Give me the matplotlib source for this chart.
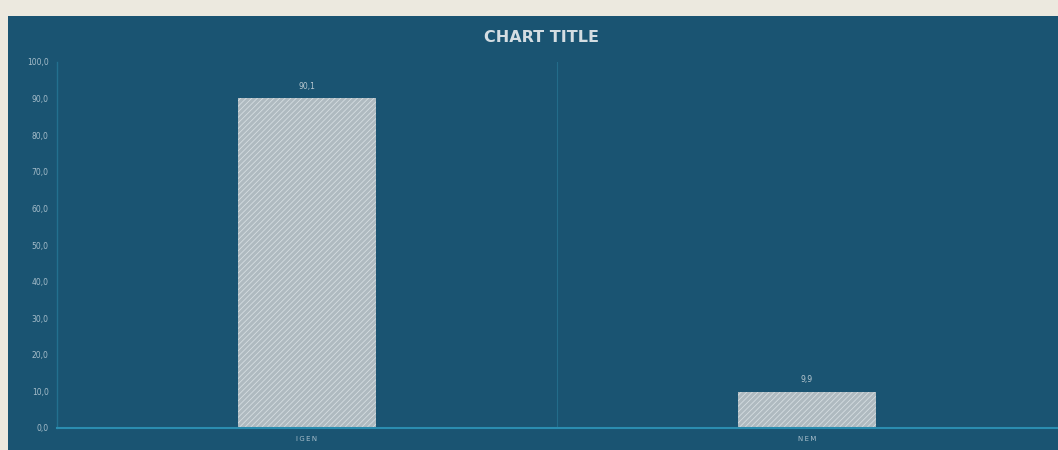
import matplotlib
matplotlib.use("Agg")
import matplotlib.pyplot as plt

categories = ["IGEN", "NEM"]
values = [90.1, 9.9]
yticks = [0, 10, 20, 30, 40, 50, 60, 70, 80, 90, 100]
title = "CHART TITLE"

plt.rcParams['hatch.linewidth'] = 0.6

W, H = 1058, 450
fig = plt.figure(figsize=(W / 100, H / 100), dpi=100)
fig.patch.set_facecolor("#ece9df")

panel_color = "#1a5472"
bg = fig.add_axes([8 / W, 0, 1 - 8 / W, 1 - 16 / H])
bg.set_facecolor(panel_color)
bg.set_xticks([])
bg.set_yticks([])
for s in bg.spines.values():
    s.set_visible(False)
bg.set_zorder(0)

ax = fig.add_axes([57 / W, 22 / H, (1057 - 57) / W, (428 - 62) / H])
ax.set_facecolor("none")
ax.set_zorder(1)

x = list(range(len(categories)))
bars = ax.bar(x, values, width=0.275, color="#afbac0", edgecolor="#d6dee2",
              hatch="//////", linewidth=0)

ax.set_xlim(-0.5, 1.5)
ax.set_ylim(0, 100)
ax.set_yticks(yticks)
ax.set_yticklabels([f"{v:.1f}".replace(".", ",") for v in yticks],
                   fontsize=5.5, color="#a6bdca")
ax.set_xticks(x)
ax.set_xticklabels(["\u2009".join(c) for c in categories], fontsize=5,
                   color="#a6bdca")
ax.tick_params(length=0, pad=6)

for s in ["top", "right"]:
    ax.spines[s].set_visible(False)
ax.spines["left"].set_color("#23708f")
ax.spines["left"].set_linewidth(1.0)
ax.spines["bottom"].set_color("#2b8db0")
ax.spines["bottom"].set_linewidth(1.5)
ax.axvline(0.5, color="#236c8a", linewidth=0.8, zorder=0)

for xi, v in zip(x, values):
    ax.text(xi, v + 2, f"{v:.1f}".replace(".", ","), ha="center", va="bottom",
            fontsize=5.5, color="#b8c8d0")

fig.text(541 / W, 1 - 38 / H, title, ha="center", va="center",
         fontsize=11.5, fontweight="bold", color="#d4dde2")

fig.savefig("out.png", dpi=100)
